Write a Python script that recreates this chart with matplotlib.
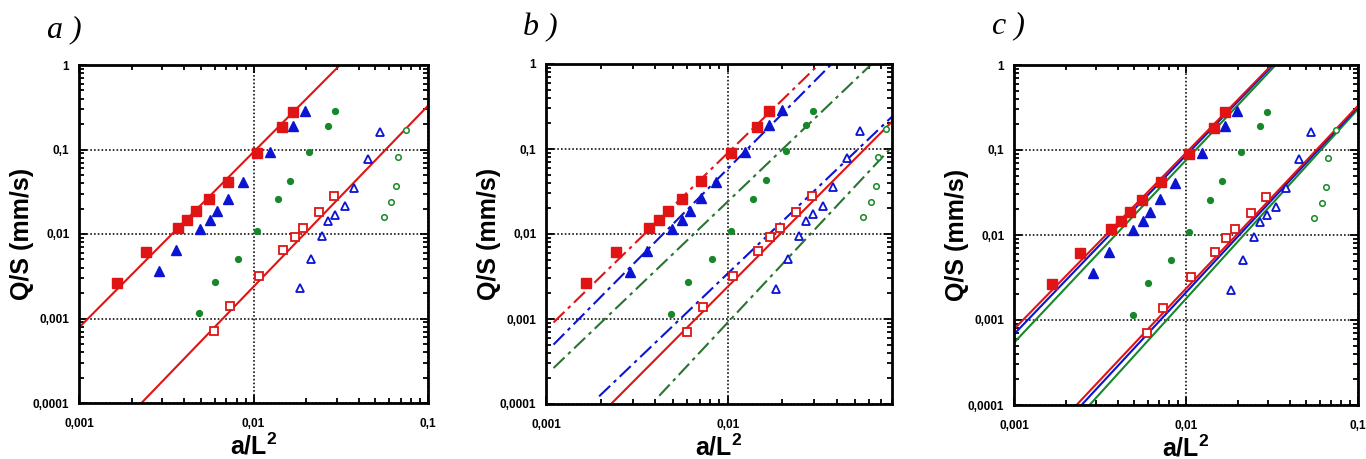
import matplotlib
matplotlib.use("Agg")
import matplotlib.pyplot as plt
from matplotlib.ticker import FixedLocator, FixedFormatter, LogLocator, NullFormatter

plt.rcParams['font.family'] = ['Liberation Sans', 'DejaVu Sans']
plt.rcParams['mathtext.fontset'] = 'custom'
plt.rcParams['mathtext.bf'] = 'Liberation Sans:bold'
plt.rcParams['mathtext.rm'] = 'Liberation Sans:bold'
plt.rcParams['lines.scale_dashes'] = False

# measured points (same in all three panels)
red_fill_x = [0.00166, 0.00242, 0.00368, 0.00418, 0.00471, 0.00557, 0.00716, 0.01045, 0.0145, 0.0169]
red_fill_y = [0.00262, 0.0061, 0.0119, 0.0146, 0.0188, 0.0258, 0.0418, 0.0903, 0.183, 0.278]
red_open_x = [0.00594, 0.00735, 0.0107, 0.01473, 0.01718, 0.0193, 0.0238, 0.0290]
red_open_y = [0.000703, 0.0014, 0.00318, 0.00638, 0.00918, 0.0119, 0.0183, 0.028]
blue_fill_x = [0.00289, 0.00358, 0.00494, 0.00562, 0.0062, 0.0071, 0.00865, 0.0124, 0.01683, 0.0198]
blue_fill_y = [0.0036, 0.00638, 0.0116, 0.0146, 0.0185, 0.0263, 0.0414, 0.0928, 0.19, 0.286]
blue_open_x = [0.01837, 0.0214, 0.0247, 0.0269, 0.0294, 0.0333, 0.0379, 0.0455, 0.0533]
blue_open_y = [0.00227, 0.00504, 0.0095, 0.0141, 0.017, 0.0213, 0.0355, 0.0774, 0.161]
green_fill_x = [0.0049, 0.00605, 0.0082, 0.01045, 0.0138, 0.0162, 0.0209, 0.0269, 0.0295]
green_fill_y = [0.00116, 0.0027, 0.00508, 0.0108, 0.0258, 0.0429, 0.0945, 0.19, 0.283]
green_open_x = [0.0557, 0.0617, 0.0653, 0.0670, 0.0745]
green_open_y = [0.0158, 0.0238, 0.0371, 0.081, 0.172]

# fitted lines, endpoints: (x0, x1), (y0, y1)
a_red_up = ([0.001, 0.0313], [0.00078, 1.0])
a_red_low = ([0.00228, 0.1], [0.0001, 0.33])

b_red_up = ([0.0011, 0.0319], [0.00091, 1.0])
b_blue_up = ([0.0011, 0.0373], [0.0005, 1.0])
b_green_up = ([0.0011, 0.062], [0.000265, 1.0])
b_blue_low = ([0.00196, 0.0802], [0.000123, 0.24])
b_red_low = ([0.00228, 0.0802], [0.0001, 0.21])
b_green_low = ([0.0042, 0.0802], [0.000125, 0.106])

c_red_up = ([0.001, 0.0315], [0.00078, 1.0])
c_blue_up = ([0.001, 0.032], [0.00068, 1.0])
c_green_up = ([0.001, 0.0332], [0.00054, 1.0])
c_red_low = ([0.00231, 0.1], [0.0001, 0.332])
c_blue_low = ([0.00247, 0.1], [0.0001, 0.32])
c_green_low = ([0.00275, 0.1], [0.0001, 0.303])

xticks = [0.001, 0.01, 0.1]
xlabels = ['0,001', '0,01', '0,1']
yticks = [0.0001, 0.001, 0.01, 0.1, 1]
ylabels = ['0,0001', '0,001', '0,01', '0,1', '1']

RED = '#e01414'
BLUE = '#0a14d2'
GREEN = '#16882a'
DKGREEN = '#2a7430'
DASH = (0, (11, 3.5, 2.5, 3.5))

fig = plt.figure(figsize=(13.66, 4.59), dpi=100)

W, H = 1366.0, 459.0
boxes = [(79, 428, 65, 403), (546, 892, 64, 404), (1014, 1358, 65, 405)]
xmaxs = [0.1, 0.0802, 0.1]
letters = [('a )', 47, 37), ('b )', 523, 35), ('c )', 992, 33)]

axes = []
for (l, r, t, b), xmax in zip(boxes, xmaxs):
    ax = fig.add_axes([l / W, 1 - b / H, (r - l) / W, (b - t) / H])
    ax.set_xscale('log')
    ax.set_yscale('log')
    ax.set_xlim(0.001, xmax)
    ax.set_ylim(0.0001, 1)
    ax.xaxis.set_major_locator(FixedLocator(xticks))
    ax.xaxis.set_major_formatter(FixedFormatter(xlabels))
    ax.yaxis.set_major_locator(FixedLocator(yticks))
    ax.yaxis.set_major_formatter(FixedFormatter(ylabels))
    ax.xaxis.set_minor_locator(LogLocator(subs=range(2, 10)))
    ax.yaxis.set_minor_locator(LogLocator(subs=range(2, 10)))
    ax.xaxis.set_minor_formatter(NullFormatter())
    ax.yaxis.set_minor_formatter(NullFormatter())
    ax.tick_params(which='both', direction='in', top=True, right=True, width=1.3)
    ax.tick_params(which='major', length=6, labelsize=8.5, pad=7)
    ax.tick_params(axis='x', which='major', pad=11)
    ax.tick_params(which='minor', length=3.5)
    for lab in ax.get_xticklabels() + ax.get_yticklabels():
        lab.set_fontweight('bold')
    for s in ax.spines.values():
        s.set_linewidth(2)
    ax.grid(which='major', color='k', linestyle=(0, (1.2, 1.5)), linewidth=1.1)
    ax.set_xlabel(r'$\mathbf{a/L^2}$', fontsize=18, labelpad=2)
    ax.set_ylabel('Q/S (mm/s)', fontsize=18, fontweight='bold', labelpad=-1)
    axes.append(ax)

for text, x, y in letters:
    fig.text(x / W, 1 - y / H, text, fontsize=23, style='italic',
             family=['Liberation Serif', 'DejaVu Serif'], va='baseline')

# lines
ax = axes[0]
for xs, ys in [a_red_up, a_red_low]:
    ax.plot(xs, ys, color=RED, lw=1.5)

ax = axes[1]
ax.plot(*b_red_up, color=RED, lw=1.5, linestyle=DASH)
ax.plot(*b_blue_up, color=BLUE, lw=1.5, linestyle=DASH)
ax.plot(*b_green_up, color=DKGREEN, lw=1.5, linestyle=DASH)
ax.plot(*b_blue_low, color=BLUE, lw=1.5, linestyle=DASH)
ax.plot(*b_red_low, color=RED, lw=1.5)
ax.plot(*b_green_low, color=DKGREEN, lw=1.5, linestyle=DASH)

ax = axes[2]
for line, col in [(c_green_up, GREEN), (c_blue_up, BLUE), (c_red_up, RED),
                  (c_green_low, GREEN), (c_blue_low, BLUE), (c_red_low, RED)]:
    ax.plot(*line, color=col, lw=1.5)

# points
for ax in axes:
    ax.plot(green_fill_x, green_fill_y, 'o', color=GREEN, ms=4.2, mec=GREEN)
    ax.plot(green_open_x, green_open_y, 'o', mfc='white', mec=GREEN, ms=4, mew=1.1)
    ax.plot(blue_fill_x, blue_fill_y, '^', color=BLUE, ms=7, mec=BLUE)
    ax.plot(blue_open_x, blue_open_y, '^', mfc='white', mec=BLUE, ms=6, mew=1.3)
    ax.plot(red_open_x, red_open_y, 's', mfc='white', mec=RED, ms=6, mew=1.3)
    ax.plot(red_fill_x, red_fill_y, 's', color=RED, ms=6.5, mec=RED)

fig.savefig('out.png', dpi=100)
